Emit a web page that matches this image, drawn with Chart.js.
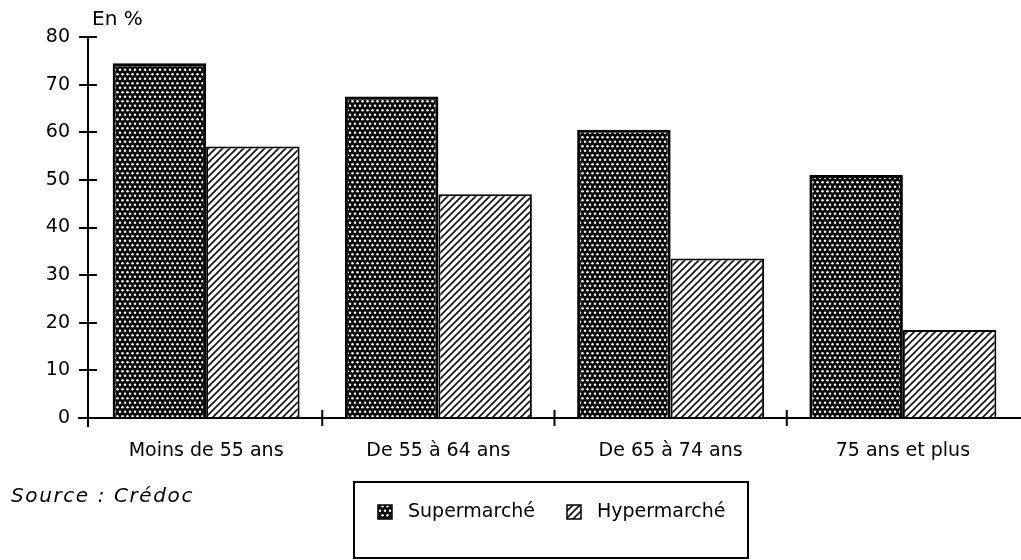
<html>
<head>
<meta charset="utf-8">
<title>Fréquentation des supermarchés et hypermarchés selon l'âge</title>
<script src="https://cdn.jsdelivr.net/npm/chart.js"></script>
<style>
  body { margin: 0; background: #fff; }
  canvas { display: block; }
</style>
</head>
<body>
<canvas id="myChart" width="1021" height="560"></canvas>

<script>
// Age groups and shares (en %)
const categories = ['Moins de 55 ans', 'De 55 à 64 ans', 'De 65 à 74 ans', '75 ans et plus'];
const supermarche = [74.5, 67.5, 60.5, 51];
const hypermarche = [57, 47, 33.5, 18.5];
const seriesLabels = ['Supermarché', 'Hypermarché'];
const yMax = 80;
const yStep = 10;

const FONT = 'DejaVu Sans';
const INK = '#000';

// black fill with staggered rows of white dots
function dotPattern() {
    const w = 10, h = 9;
    const c = document.createElement('canvas');
    c.width = w; c.height = h;
    const g = c.getContext('2d');
    g.fillStyle = '#0a0a0a';
    g.fillRect(0, 0, w, h);
    g.fillStyle = '#f4f4f4';
    const dots = [[2.5, 2.25], [7.5, 2.25], [0, 6.75], [5, 6.75], [10, 6.75]];
    dots.forEach(([dx, dy]) => {
        g.beginPath();
        g.arc(dx, dy, 1.25, 0, Math.PI * 2);
        g.fill();
    });
    return g.createPattern(c, 'repeat');
}

// white fill with "/" hatching
function hatchPattern() {
    const s = 7;
    const c = document.createElement('canvas');
    c.width = s; c.height = s;
    const g = c.getContext('2d');
    g.fillStyle = '#fff';
    g.fillRect(0, 0, s, s);
    g.strokeStyle = '#111';
    g.lineWidth = 1.6;
    g.beginPath();
    g.moveTo(-1, s + 1); g.lineTo(s + 1, -1);
    g.moveTo(-1, 1); g.lineTo(1, -1);
    g.moveTo(s - 1, s + 1); g.lineTo(s + 1, s - 1);
    g.stroke();
    return g.createPattern(c, 'repeat');
}

const fills = [dotPattern(), hatchPattern()];

// axes drawn with ticks crossing the lines
const axesPlugin = {
    id: 'crossAxes',
    afterDatasetsDraw(chart) {
        const ctx = chart.ctx;
        const x = chart.scales.x, y = chart.scales.y;
        const x0 = chart.chartArea.left - 2;
        const y0 = y.getPixelForValue(0);
        ctx.save();
        ctx.strokeStyle = INK;
        ctx.lineWidth = 2;
        ctx.beginPath();
        // vertical axis
        ctx.moveTo(x0, y.getPixelForValue(yMax));
        ctx.lineTo(x0, y0 + 9);
        for (let v = 0; v <= yMax; v += yStep) {
            const py = Math.round(y.getPixelForValue(v));
            ctx.moveTo(x0 - 9, py);
            ctx.lineTo(x0 + 9, py);
        }
        // horizontal axis
        ctx.moveTo(x0 - 10, y0);
        ctx.lineTo(chart.width, y0);
        for (let i = 0; i < categories.length - 1; i++) {
            const px = (x.getPixelForValue(i) + x.getPixelForValue(i + 1)) / 2;
            ctx.moveTo(px, y0 - 8);
            ctx.lineTo(px, y0 + 8);
        }
        ctx.stroke();

        // unit label
        ctx.fillStyle = INK;
        ctx.font = '20px "' + FONT + '"';
        ctx.textAlign = 'left';
        ctx.textBaseline = 'middle';
        ctx.fillText('En %', x0 + 4, 20);
        ctx.restore();
    }
};

// boxed legend and source note under the axis
const footerPlugin = {
    id: 'footer',
    afterDraw(chart) {
        const ctx = chart.ctx;
        ctx.save();
        ctx.fillStyle = INK;
        ctx.textBaseline = 'middle';
        ctx.textAlign = 'left';
        ctx.font = 'italic 20px "' + FONT + '"';
        ctx.letterSpacing = '1.6px';
        ctx.fillText('Source : Crédoc', 11, 497);
        ctx.letterSpacing = '0px';

        ctx.strokeStyle = INK;
        ctx.lineWidth = 2;
        ctx.strokeRect(354, 482, 394, 76);

        const starts = [378, 567];
        ctx.font = '19px "' + FONT + '"';
        chart.data.datasets.forEach((ds, i) => {
            const sx = starts[i];
            ctx.fillStyle = ds.backgroundColor;
            ctx.fillRect(sx, 505, 14, 14);
            ctx.lineWidth = 1.5;
            ctx.strokeRect(sx, 505, 14, 14);
            ctx.fillStyle = INK;
            ctx.fillText(ds.label, sx + 30, 512);
        });
        ctx.restore();
    }
};

const config = {
    type: 'bar',
    data: {
        labels: categories,
        datasets: [
            {
                label: seriesLabels[0],
                data: supermarche,
                backgroundColor: fills[0],
                borderColor: INK,
                borderWidth: 3,
                borderSkipped: 'bottom'
            },
            {
                label: seriesLabels[1],
                data: hypermarche,
                backgroundColor: fills[1],
                borderColor: INK,
                borderWidth: 2,
                borderSkipped: 'bottom'
            }
        ]
    },
    options: {
        responsive: false,
        animation: false,
        devicePixelRatio: 1,
        layout: { padding: { top: 37, right: 2, left: 0, bottom: 0 } },
        datasets: { bar: { categoryPercentage: 0.805, barPercentage: 1 } },
        plugins: {
            legend: { display: false },
            tooltip: { enabled: false }
        },
        scales: {
            x: {
                grid: { display: false, drawTicks: false },
                border: { display: false },
                ticks: {
                    color: INK,
                    font: { family: FONT, size: 19 },
                    padding: 22,
                    maxRotation: 0
                },
                afterFit: s => { s.height = 142; }
            },
            y: {
                min: 0,
                max: yMax,
                grid: { display: false, drawTicks: false },
                border: { display: false },
                ticks: {
                    stepSize: yStep,
                    color: INK,
                    font: { family: FONT, size: 19 },
                    padding: 20
                },
                afterFit: s => { s.width = 90; }
            }
        }
    },
    plugins: [axesPlugin, footerPlugin]
};

const myChart = new Chart(document.getElementById('myChart'), config);
</script>
</body>
</html>
